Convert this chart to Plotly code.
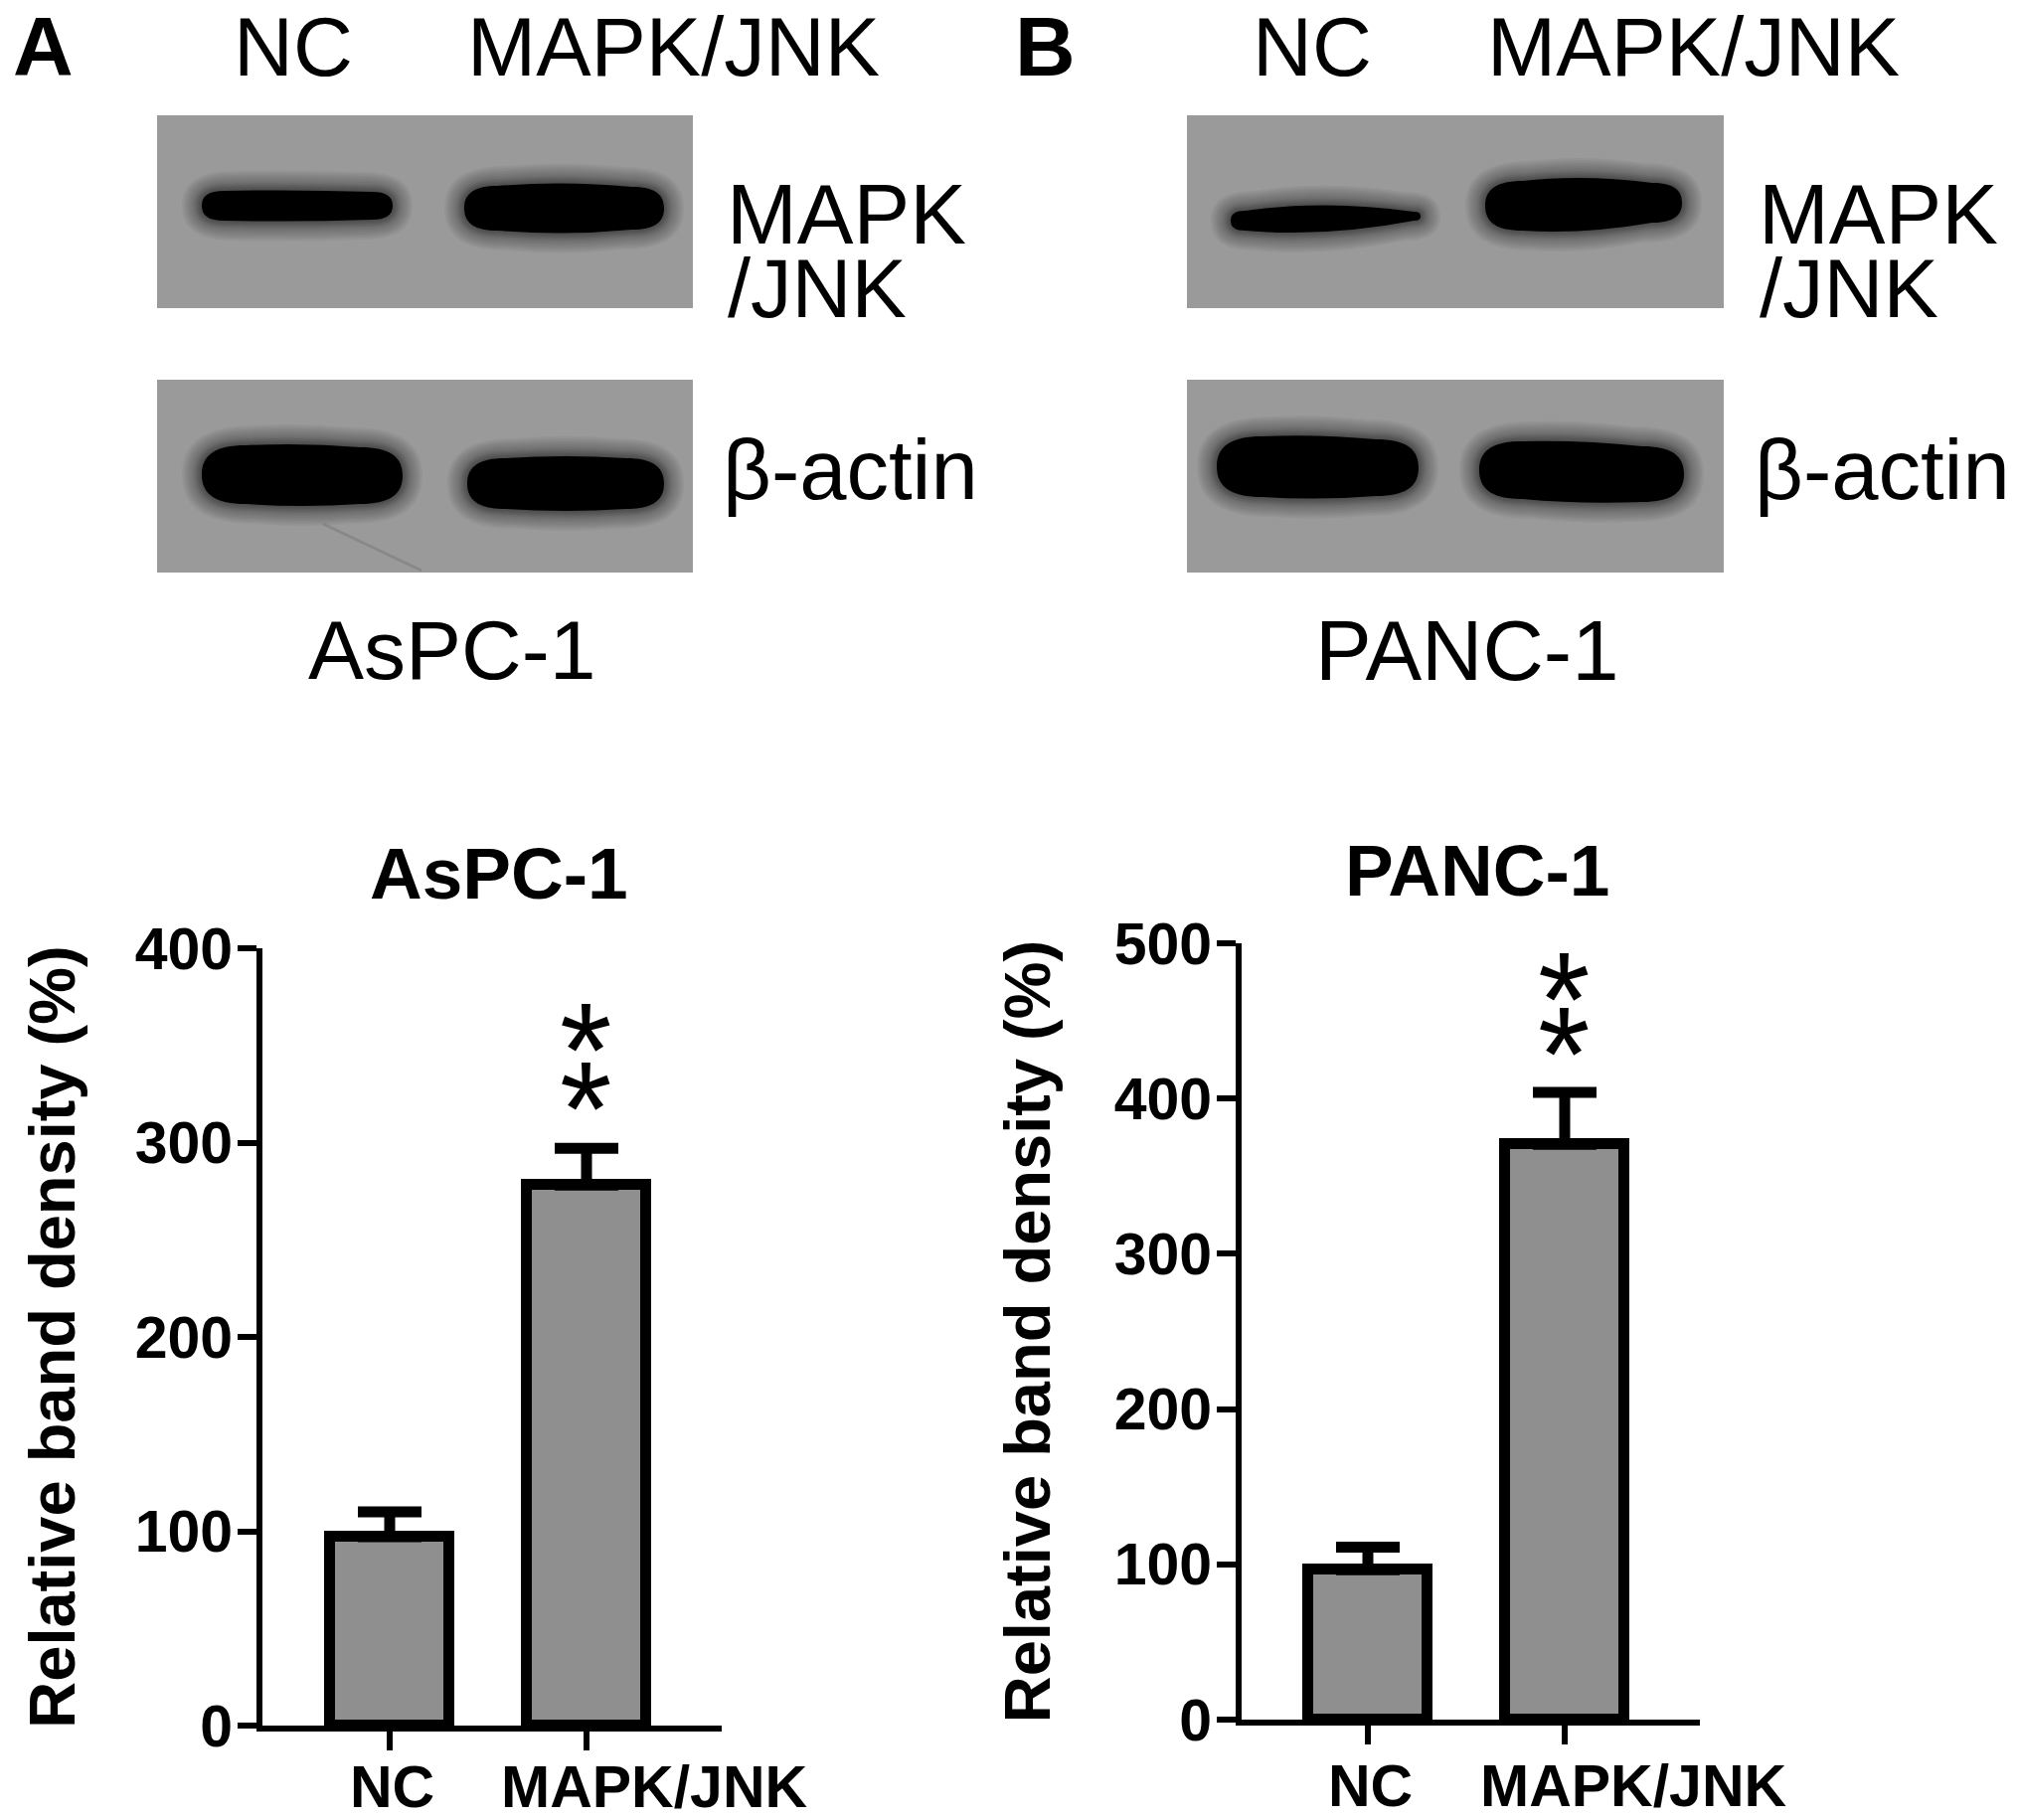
import plotly.graph_objects as go

W, H = 2031, 1831
FONT = "Liberation Sans"

categories = ["NC", "MAPK/JNK"]
aspc_means = [100, 281]
aspc_errors = [10, 16]
panc_means = [100, 374]
panc_errors = [11, 30]
aspc_ticks = [0, 100, 200, 300, 400]
panc_ticks = [0, 100, 200, 300, 400, 500]
aspc_star_y = [360, 329.5]
panc_star_y = [479, 444]
y_title = "Relative band density (%)"

# western blot panels, in image pixels: x0, x1, y0, y1
blot_panels = [
    (158, 697, 116, 310), (158, 697, 382, 576),
    (1194, 1734, 116, 310), (1194, 1734, 382, 576),
]
# bands: x0, x1, top-left, bottom-left, top-right, bottom-right, bulge of the long edges
blot_bands = [
    (203, 395, 192, 222, 193, 221, 1),
    (467, 668, 187, 232, 188, 231, 3),
    (203, 405, 448, 507, 450, 507, 2),
    (470, 668, 461, 512, 461, 512, 2),
    (1238, 1429, 212, 232, 213, 222, 6),
    (1494, 1692, 182, 232, 184, 224, 4),
    (1224, 1427, 439, 500, 442, 499, 2),
    (1488, 1694, 444, 502, 449, 505, 2),
]
halo = [(e, .045) for e in (20, 18, 16, 14, 12, 10, 8, 7, 6, 5, 4, 3, 2, 1)]


def px(x):
    return x / W


def py(y):
    return 1 - y / H


def band_path(b, e):
    x0, x1, tl, bl, tr, br, bulge = b
    x0 -= e; x1 += e; tl -= e; bl += e; tr -= e; br += e
    rl = (bl - tl) * .75
    rr = (br - tr) * .75
    ml, mr = (tl + bl) / 2, (tr + br) / 2
    k = .68
    xc = (x0 + x1) / 2
    pts = [
        f"M{px(x0)},{py(ml)}",
        f"C{px(x0)},{py(ml - (ml - tl) * k)} {px(x0 + rl * (1 - k))},{py(tl)} {px(x0 + rl)},{py(tl)}",
        f"Q{px(xc)},{py((tl + tr) / 2 - 2 * bulge)} {px(x1 - rr)},{py(tr)}",
        f"C{px(x1 - rr * (1 - k))},{py(tr)} {px(x1)},{py(mr - (mr - tr) * k)} {px(x1)},{py(mr)}",
        f"C{px(x1)},{py(mr + (br - mr) * k)} {px(x1 - rr * (1 - k))},{py(br)} {px(x1 - rr)},{py(br)}",
        f"Q{px(xc)},{py((bl + br) / 2 + 2 * bulge)} {px(x0 + rl)},{py(bl)}",
        f"C{px(x0 + rl * (1 - k))},{py(bl)} {px(x0)},{py(ml + (bl - ml) * k)} {px(x0)},{py(ml)}Z",
    ]
    return " ".join(pts)


shapes = []
for x0, x1, y0, y1 in blot_panels:
    shapes.append(dict(type="rect", xref="paper", yref="paper", x0=px(x0), x1=px(x1),
                       y0=py(y1), y1=py(y0), fillcolor="#9a9a9a", line_width=0, layer="below"))
for b in blot_bands:
    for e, op in halo:
        shapes.append(dict(type="path", xref="paper", yref="paper", path=band_path(b, e),
                           fillcolor="black", opacity=op, line_width=0, layer="below"))
    shapes.append(dict(type="path", xref="paper", yref="paper", path=band_path(b, 0),
                       fillcolor="black", line_width=0, layer="below"))
# faint scratch on the lower-left blot
shapes.append(dict(type="line", xref="paper", yref="paper", x0=px(325), y0=py(527), x1=px(424), y1=py(574),
                   line=dict(color="#787878", width=3), opacity=.5, layer="below"))


def text(s, x, y, size, bold=False, anchor="center"):
    return dict(text=f"<b>{s}</b>" if bold else s, x=px(x), y=py(y), xref="paper", yref="paper",
                xanchor=anchor, yanchor="middle", showarrow=False,
                font=dict(family=FONT, size=size, color="black"))


annotations = [
    text("A", 11, 47, 84, True, "left"),
    text("NC", 295, 47, 83),
    text("MAPK/JNK", 677, 47, 83),
    text("MAPK", 729, 215, 85, False, "left"),
    text("/JNK", 730, 291, 83, False, "left"),
    text("β-actin", 725, 473, 85, False, "left"),
    text("AsPC-1", 454, 654, 84),
    text("B", 1019, 47, 84, True, "left"),
    text("NC", 1320, 47, 83),
    text("MAPK/JNK", 1703, 47, 83),
    text("MAPK", 1767, 215, 85, False, "left"),
    text("/JNK", 1768, 291, 83, False, "left"),
    text("β-actin", 1763, 473, 85, False, "left"),
    text("PANC-1", 1475, 654, 85),
    text("AsPC-1", 502, 878, 73, True),
    text("PANC-1", 1486, 876, 73, True),
]

STROKE = 11
GREY = "#8f8f8f"
fig = go.Figure()


def add_chart(xa, ya, means, errors, ticks, ymax, stars, dom_x, dom_y, shift, standoff, label_y):
    unit = (dom_y[1] - dom_y[0]) / ymax
    half = STROKE / 2 / unit
    y = [m - half for m in means]
    tops = [m + e for m, e in zip(means, errors)]
    fig.add_trace(go.Bar(
        x=categories, y=y, xaxis=xa, yaxis=ya, width=0.608, showlegend=False,
        marker=dict(color=GREY, line=dict(color="black", width=STROKE)),
        error_y=dict(type="data", symmetric=False, array=[t - v for t, v in zip(tops, y)],
                     arrayminus=[0, 0], color="black", thickness=11, width=32),
    ))
    suffix = xa[1:]
    left = dom_x[0] + 3
    fig.layout[f"xaxis{suffix}"] = dict(
        domain=[px(left), px(dom_x[1])],
        range=[-(dom_x[2] - left) / 198, (dom_x[1] - dom_x[2]) / 198], type="category",
        anchor=ya, showline=True, linecolor="black", linewidth=6, ticks="outside", ticklen=19,
        tickwidth=6, tickcolor="black", showticklabels=False, showgrid=False, zeroline=False,
        categoryorder="array", categoryarray=categories, fixedrange=True)
    fig.layout[f"yaxis{suffix}"] = dict(
        domain=[py(dom_y[1]), py(dom_y[0])], range=[0, ymax], anchor=xa, showline=True,
        linecolor="black", linewidth=6, ticks="outside", ticklen=19, tickwidth=6, tickcolor="black",
        tickvals=ticks, ticktext=[str(t) for t in ticks], showgrid=False, zeroline=False,
        ticklabelstandoff=-7,
        tickfont=dict(family=FONT, size=59, color="black", weight="bold"),
        title=dict(text=y_title, standoff=standoff, font=dict(family=FONT, size=65, color="black", weight="bold")),
        fixedrange=True)
    for s in stars:
        annotations.append(dict(text="*", x=categories[1], y=s, xref=xa, yref=ya, showarrow=False,
                                xanchor="center", xshift=-1, yanchor="middle", yshift=-24,
                                font=dict(family=FONT, size=135, color="black")))
    for c, dx in zip(categories, shift):
        annotations.append(dict(text=f"<b>{c}</b>", x=c, y=0, xref=xa, yref=ya, yanchor="middle", xanchor="center",
                                xshift=dx, yshift=label_y, showarrow=False,
                                font=dict(family=FONT, size=59, color="black")))


add_chart("x", "y", aspc_means, aspc_errors, aspc_ticks, 400, aspc_star_y,
          (261, 726, 392), (954, 1736), (2, 68), 41, -62)
add_chart("x2", "y2", panc_means, panc_errors, panc_ticks, 500, panc_star_y,
          (1246, 1710, 1376), (949, 1730), (2, 69), 45, -67)

fig.update_layout(width=W, height=H, margin=dict(l=0, r=0, t=0, b=0, autoexpand=False), paper_bgcolor="white",
                  plot_bgcolor="white", shapes=shapes, annotations=annotations, bargap=0)
fig.write_html("out.html", config=dict(displayModeBar=False),
               post_script="document.body.style.margin='0';")
